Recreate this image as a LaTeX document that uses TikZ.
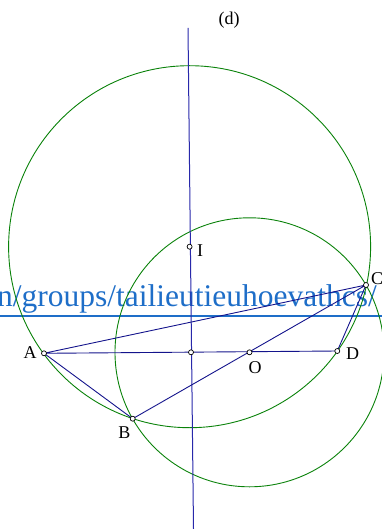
\documentclass[tikz,border=0pt]{standalone}
\usepackage{fontspec}
\setmainfont{Liberation Serif}
\definecolor{wmblue}{RGB}{30,110,200}
\definecolor{segblue}{RGB}{20,20,140}
\definecolor{dblue}{RGB}{40,40,170}
\definecolor{geogreen}{RGB}{10,130,10}
\begin{document}
\begin{tikzpicture}[x=1pt,y=-1pt,
  geo/.style={draw=geogreen, line width=0.9pt},
  seg/.style={draw=segblue, line width=0.9pt},
  dline/.style={draw=dblue, line width=1pt},
  pt/.style={circle, draw=black, fill=white, inner sep=0pt, minimum size=5pt, line width=0.7pt},
  lab/.style={font=\fontsize{18}{18}\selectfont, inner sep=0pt},
  wm/.style={font=\fontsize{31.5}{32}\selectfont, text=wmblue, inner sep=0pt, anchor=base west}]
\useasboundingbox (0,0) rectangle (382,529);
% watermark
\node[wm] (wmtext) at (-3,306) {n/groups/tailieutieuhoevathcs/};
\fill[wmblue] (0,315) rectangle (382,317.2);
% coordinates
\coordinate (A) at (44,353.3);
\coordinate (B) at (132.7,418.7);
\coordinate (C) at (366,285);
\coordinate (D) at (337.3,351);
\coordinate (O) at (249.5,352.3);
\coordinate (H) at (191,352.3);
\coordinate (I) at (189.6,246.7);
\coordinate (dtop) at (188,28);
\coordinate (dbot) at (193.5,529);
% circles
\begin{scope}
\clip (0,0) rectangle (382,529);
\draw[geo] (I) circle (181);
\draw[geo] (O) circle (134.5);
\end{scope}
% lines
\draw[dline] (dtop) -- (dbot);
\draw[seg] (A) -- (C) -- (D) -- (A) -- (B) -- (C);
% points
\foreach \p in {A,B,C,D,O,H,I} \node[pt] (P\p) at (\p) {};
% labels
\node[lab] (lA) at (30,353) {A};
\node[lab] (lB) at (124.5,433) {B};
\node[lab] (lO) at (255,368) {O};
\node[lab] (lD) at (352.5,354) {D};
\node[lab, anchor=west] (lC) at (371,279) {C};
\node[lab] (lI) at (200,251) {I};
\node[lab] (ld) at (229,20) {(d)};
\end{tikzpicture}
\end{document}
